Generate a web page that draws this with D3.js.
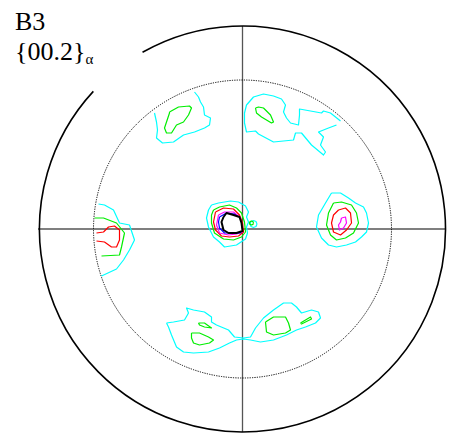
<!DOCTYPE html>
<html><head><meta charset="utf-8">
<script src="https://cdn.jsdelivr.net/npm/d3@7"></script>
<style>html,body{margin:0;padding:0;background:#fff;}svg{display:block;}</style>
</head><body><svg id="c" width="452" height="433"></svg>
<script>
// Pole figure {00.2} alpha, sample B3. Coordinates: offsets from projection centre, y up, outer radius = 203 units.
const titleLines = ["B3", "{00.2}", "α"];
const outerRadius = 203, measuredRadius = 149;
const outerGap = [119.5, 137.3]; // degrees (counter-clockwise from +x) left open for the label
const levelColors = {1: "#00ffff", 2: "#00ee00", 3: "#ff0000", 4: "#ff00ff", 5: "#0000ff", 6: "#000000"};

const upperLeftCyan = [[-88,116],[-86,107],[-85,99],[-86,91],[-80,86],[-69,87],[-59,94],[-48,97],[-38,101],[-33,104],[-32,111],[-38,114],[-39,122],[-42,127],[-44,132],[-48,137]];
const upperLeftGreen = [[-73,117],[-64,122],[-53,123],[-51,121],[-54,114],[-59,107],[-66,104],[-71,96],[-76,96],[-78,101],[-76,107],[-73,116]];
const upperRightCyan = [[98,108],[88,116],[81,118],[79,116],[57,120],[57,114],[56,104],[48,106],[44,111],[41,117],[43,124],[39,130],[31,133],[21,135],[11,132],[4,124],[2,116],[2,106],[4,97],[13,98],[16,95],[31,87],[51,89],[53,96],[59,96],[69,84],[81,74],[83,77],[78,84],[81,92],[76,97],[86,101],[94,104]];
const upperRightGreen = [[13,121],[16,122],[21,121],[28,114],[31,107],[29,106],[24,109],[19,112],[14,116]];
const centreCyan = [[-31,24],[-24,26],[-12,28],[-4,27],[3,23],[6,17],[4,12],[6,7],[4,2],[5,-4],[3,-10],[-6,-16],[-18,-18],[-23,-13],[-29,-8],[-34,2],[-36,11],[-34,19]];
const centreGreen = [[-29,19],[-23,22],[-13,24],[-6,21],[-1,16],[2,7],[3,-3],[-1,-8],[-9,-11],[-19,-10],[-28,-4],[-31,6],[-31,14]];
const centreRed = [[-27,17],[-19,21],[-9,20],[-3,14],[0,6],[1,-3],[-4,-7],[-13,-8],[-21,-7],[-27,-1],[-29,7]];
const centreMagenta = [[-24,14],[-18,17],[-9,17],[-3,12],[-1,4],[0,-3],[-6,-5],[-14,-6],[-23,-4],[-26,4]];
const centreBlue = [[-23,12],[-16,16],[-8,15],[-3,10],[-1,2],[-2,-4],[-9,-4],[-18,-4],[-23,1],[-24,7]];
const centreBlack = [[-19,12],[-16,16],[-9,14],[-3,12],[-1,6],[0,-2],[-6,-4],[-14,-4],[-19,-1],[-21,7]];
const spotCyan = [[14.5,5],[13.5,7.5],[11,8.5],[8.5,7.5],[7.5,5],[8.5,2.5],[11,1.5],[13.5,2.5]];
const spotGreen = [[11,6],[10.4,7.4],[9,8],[7.6,7.4],[7,6],[7.6,4.6],[9,4],[10.4,4.6]];
const leftCyan = [[-144,25],[-138,24],[-129,19],[-123,6],[-113,4],[-108,-11],[-113,-21],[-119,-31],[-126,-40],[-141,-47]];
const leftGreen = [[-148,11],[-139,11],[-126,6],[-118,-4],[-121,-18],[-123,-26],[-141,-27]];
const leftRed = [[-146,-4],[-139,-3],[-134,2],[-128,3],[-123,-1],[-123,-11],[-126,-18],[-131,-18],[-138,-13],[-146,-12]];
const rightCyan = [[89,36],[98,36],[106,31],[113,26],[121,22],[124,16],[126,6],[124,-3],[119,-8],[113,-13],[104,-16],[94,-18],[86,-16],[79,-9],[74,2],[76,14],[83,26]];
const rightGreen = [[91,26],[99,27],[109,24],[114,16],[116,6],[111,-4],[103,-9],[94,-11],[88,-6],[84,4],[86,16]];
const rightRed = [[96,19],[103,21],[108,16],[109,6],[104,-1],[98,-6],[91,-3],[89,6],[91,14]];
const rightMagenta = [[99,11],[103,12],[104,6],[101,1],[97,-1],[96,4],[98,7]];
const lowerCyan = [[-76,-94],[-69,-93],[-58,-91],[-54,-84],[-56,-79],[-49,-81],[-38,-83],[-31,-88],[-31,-93],[-26,-96],[-14,-101],[-8,-108],[1,-109],[8,-108],[13,-99],[21,-89],[31,-81],[41,-74],[49,-74],[54,-78],[59,-84],[69,-81],[76,-83],[78,-89],[73,-94],[63,-98],[54,-101],[44,-106],[31,-111],[18,-113],[8,-111],[1,-110],[-6,-111],[-13,-114],[-23,-119],[-34,-123],[-49,-124],[-59,-123],[-66,-118],[-71,-106],[-74,-98]];
const lowerLeftGreenA = [[-44,-94],[-38,-94],[-31,-99],[-38,-98],[-43,-96]];
const lowerLeftGreenB = [[-51,-104],[-43,-104],[-34,-108],[-29,-111],[-33,-114],[-43,-116],[-49,-114],[-51,-109]];
const lowerRightGreenA = [[23,-93],[31,-88],[43,-88],[46,-94],[48,-101],[43,-104],[31,-106],[24,-103]];
const lowerRightGreenB = [[58,-94],[68,-88],[69,-90],[59,-95]];

const contours = [
  {level:1, closed:false, pts:upperLeftCyan}, {level:2, closed:true, pts:upperLeftGreen},
  {level:1, closed:false, pts:upperRightCyan}, {level:2, closed:true, pts:upperRightGreen},
  {level:1, closed:true, pts:centreCyan}, {level:2, closed:true, pts:centreGreen},
  {level:3, closed:true, pts:centreRed}, {level:4, closed:true, pts:centreMagenta},
  {level:5, closed:true, pts:centreBlue}, {level:6, closed:true, pts:centreBlack},
  {level:1, closed:true, pts:spotCyan}, {level:2, closed:true, pts:spotGreen},
  {level:1, closed:false, pts:leftCyan}, {level:2, closed:false, pts:leftGreen}, {level:3, closed:false, pts:leftRed},
  {level:1, closed:true, pts:rightCyan}, {level:2, closed:true, pts:rightGreen},
  {level:3, closed:true, pts:rightRed}, {level:4, closed:true, pts:rightMagenta},
  {level:1, closed:true, pts:lowerCyan}, {level:2, closed:true, pts:lowerLeftGreenA},
  {level:2, closed:true, pts:lowerLeftGreenB}, {level:2, closed:true, pts:lowerRightGreenA},
  {level:2, closed:true, pts:lowerRightGreenB}
];

const svg = d3.select("#c");
const cx = 242.5, cy = 229;
const x = d3.scaleLinear().domain([-outerRadius, outerRadius]).range([cx - 203, cx + 203]);
const y = d3.scaleLinear().domain([-outerRadius, outerRadius]).range([cy + 203, cy - 203]);
const rs = d3.scaleLinear().domain([0, outerRadius]).range([0, 203]);

// crosshair
svg.append("line").attr("x1", x(-outerRadius) - 1.5).attr("x2", x(outerRadius)).attr("y1", y(0)).attr("y2", y(0))
  .attr("stroke", "#000").attr("stroke-width", 1.1);
svg.append("line").attr("x1", x(0)).attr("x2", x(0)).attr("y1", y(outerRadius)).attr("y2", y(-outerRadius))
  .attr("stroke", "#555").attr("stroke-width", 1.3);

// outer circle with gap (d3.arc angles: 0 at top, clockwise; math angle a -> 90 - a)
const toD3 = a => (90 - a) * Math.PI / 180;
svg.append("path").attr("transform", `translate(${cx},${cy})`)
  .attr("d", d3.arc()({innerRadius: rs(outerRadius), outerRadius: rs(outerRadius), startAngle: toD3(outerGap[0]), endAngle: toD3(outerGap[1]) + 2 * Math.PI}))
  .attr("fill", "none").attr("stroke", "#000").attr("stroke-width", 1.6);

// dotted measured-range circle
svg.append("circle").attr("cx", cx).attr("cy", cy).attr("r", rs(measuredRadius))
  .attr("fill", "none").attr("stroke", "#000").attr("stroke-width", 1).attr("stroke-dasharray", "1.2,1.2");

// contours
const line = d3.line().x(d => x(d[0])).y(d => y(d[1]));
contours.forEach(c => {
  const pts = c.closed ? c.pts.concat([c.pts[0]]) : c.pts;
  svg.append("path").attr("d", line(pts)).attr("fill", c.level === 6 ? "#fff" : "none")
    .attr("stroke", levelColors[c.level]).attr("stroke-width", c.level === 6 ? 2 : 1.2)
    .attr("stroke-linejoin", "round");
});

// label
const serif = '"Liberation Serif", "Times New Roman", Times, serif';
const t = svg.append("g").attr("fill", "#000").attr("font-family", serif);
t.append("text").attr("x", 15).attr("y", 30).style("font-size", "26px").text(titleLines[0]);
const t2 = t.append("text").attr("x", 15).attr("y", 60).style("font-size", "26px");
t2.append("tspan").text(titleLines[1]);
t2.append("tspan").style("font-size", "15px").attr("dy", 4).text(titleLines[2]);
</script></body></html>
